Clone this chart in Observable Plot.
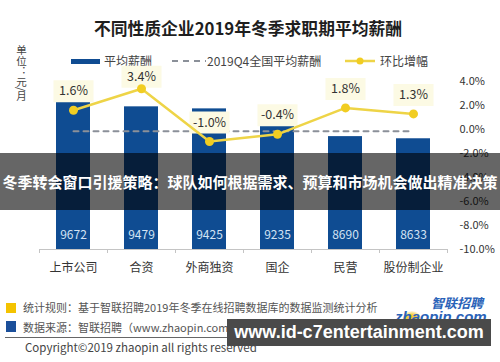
<!DOCTYPE html>
<html><head><meta charset="utf-8">
<script src="https://cdn.jsdelivr.net/npm/d3@7"></script>
<script src="https://cdn.jsdelivr.net/npm/@observablehq/plot@0.6"></script>
<style>
body{margin:0;background:#fff;font-family:"Noto Sans CJK SC","Noto Sans",sans-serif;}
#wrap{position:relative;width:500px;height:362px;overflow:hidden;background:#fff;}
.abs{position:absolute;white-space:nowrap;}
#chart1,#chart2{position:absolute;left:0;top:66px;}
</style></head><body><div id="wrap">
<div class="abs" style="left:0;width:496px;top:20px;text-align:center;font-size:16.8px;line-height:17px;font-weight:700;color:#1e1e1e;">不同性质企业2019年冬季求职期平均薪酬</div>
<div class="abs" style="left:15px;top:45px;font-size:10.5px;line-height:12px;writing-mode:vertical-rl;color:#444;">单位：元/月</div>
<div class="abs" style="left:71px;top:59px;width:29px;height:5px;background:#0f4c92;"></div>
<div class="abs" style="left:104px;top:54px;font-size:12px;line-height:13px;color:#444;">平均薪酬</div>
<svg class="abs" style="left:172px;top:55px" width="34" height="12"><line x1="0" x2="34" y1="6" y2="6" stroke="#8b9099" stroke-width="2" stroke-dasharray="6,5"/></svg>
<div class="abs" style="left:207px;top:54px;font-size:12px;line-height:13px;color:#444;">2019Q4全国平均薪酬</div>
<svg class="abs" style="left:345px;top:55px" width="30" height="12"><line x1="0" x2="30" y1="6" y2="6" stroke="#eed447" stroke-width="2.5"/><circle cx="15" cy="6" r="3.5" fill="#f1cd22"/></svg>
<div class="abs" style="left:380px;top:54px;font-size:12px;line-height:13px;color:#444;">环比增幅</div>
<div id="chart1"></div>
<div id="chart2"></div>
<div class="abs" style="left:0;top:153px;width:500px;height:57px;background:rgba(0,0,0,0.6);display:flex;align-items:center;justify-content:center;color:#fff;font-weight:700;font-size:15px;">冬季转会窗口引援策略：球队如何根据需求、预算和市场机会做出精准决策</div>
<div class="abs" style="left:6px;top:303px;width:10px;height:10px;background:#f4c300;"></div>
<div class="abs" style="left:23px;top:301px;font-size:11px;line-height:12px;color:#555;">统计规则：基于智联招聘2019年冬季在线招聘数据库的数据监测统计分析</div>
<div class="abs" style="left:6px;top:321px;width:10px;height:11px;background:#1b4f9a;"></div>
<div class="abs" style="left:23px;top:321px;font-size:11px;line-height:12px;color:#555;">数据来源：智联招聘（www.zhaopin.com）</div>
<div class="abs" style="left:5px;top:337px;width:485px;height:1px;background:#666;"></div>
<div class="abs" style="left:25px;top:341px;font-size:11.5px;line-height:13px;color:#444;">Copyright©2019 zhaopin all rights reserved</div>
<div class="abs" style="left:402px;top:311px;width:20px;height:20px;border-radius:50%;background:radial-gradient(circle,#f3b800 0%,#f6d040 45%,rgba(250,230,120,0) 75%);"></div>
<div class="abs" style="left:431px;top:296px;font-size:13px;line-height:14px;font-weight:700;font-style:italic;color:#2a62b8;">智联招聘</div>
<div class="abs" style="left:395px;top:309px;font-size:15px;line-height:15px;font-weight:700;font-style:italic;color:#2a62b8;font-family:'Liberation Sans',sans-serif;">zhaopin.com</div>
<div class="abs" style="left:227px;top:319px;width:264px;height:27px;background:#4a4a4a;display:flex;align-items:center;justify-content:center;color:#fff;font-weight:700;font-size:18px;font-family:'Liberation Sans',sans-serif;">www.id-c7entertainment.com</div>
</div>
<script>
const categories = ["上市公司","合资","外商独资","国企","民营","股份制企业"];
const salaries = [9672,9479,9425,9235,8690,8633];
const growth = [1.6,3.4,-1.0,-0.4,1.8,1.3];
const nationalAvg = 8829;
const pctTicks = [4,2,0,-2,-4,-6,-8,-10];
const salaryDomain = [5700,10150];
const pctDomain = [-10,4];

const rows = categories.map((c,i)=>({cat:c, salary:salaries[i], growth:growth[i]}));
const W=500,H=220,mT=15,mB=37,mL=39,mR=53;
const step=(W-mL-mR)/categories.length;
const maxG=d3.max(growth);
const font="'Noto Sans CJK SC','Noto Sans',sans-serif";
const common={width:W,height:H,marginTop:mT,marginBottom:mB,marginLeft:mL,marginRight:mR,
  x:{domain:categories,paddingInner:0.5,paddingOuter:0.25,axis:null},
  style:{fontFamily:font,fontSize:"12px",background:"transparent",overflow:"visible"}};

const p1=Plot.plot({...common,
  y:{domain:salaryDomain,axis:null},
  marks:[
    Plot.barY(rows,{x:"cat",y1:()=>salaryDomain[0],y2:"salary",fill:"#0f4c92"}),
    Plot.ruleY([salaryDomain[0]],{stroke:"#c4c4c4"}),
    Plot.ruleX(categories,{x:d=>d,dx:-step/2,insetTop:H-mT-mB,insetBottom:-4,stroke:"#c4c4c4"}),
    Plot.ruleX(categories.slice(-1),{x:d=>d,dx:step/2,insetTop:H-mT-mB,insetBottom:-4,stroke:"#c4c4c4"}),
    Plot.text(rows,{x:"cat",y:()=>salaryDomain[0],text:d=>String(d.salary),dy:-14,fill:"#d3e3f4",fontSize:12}),
    Plot.lineY(categories,{x:d=>d,y:()=>nationalAvg,stroke:"#8b9099",strokeWidth:2,strokeDasharray:"5,5"}),
    Plot.axisX({tickSize:0,tickPadding:14,fontSize:12,fill:"#333",label:null})
  ]});
document.getElementById("chart1").append(p1);

const boxSymbol={draw(ctx){ctx.rect(-20,-11,40,22);}};
const p2=Plot.plot({...common,
  y:{domain:pctDomain,axis:null},
  marks:[
    Plot.axisY({anchor:"right",ticks:pctTicks,tickSize:0,tickPadding:12,tickFormat:d=>d.toFixed(1)+"%",fontSize:11,fill:"#333",label:null}),
    Plot.dot(rows,{filter:d=>d.growth!==maxG,x:"cat",y:"growth",dy:-19,symbol:boxSymbol,fill:"#fcfae4",stroke:"none"}),
    Plot.dot(rows,{filter:d=>d.growth===maxG,x:"cat",y:"growth",dy:-12,symbol:boxSymbol,fill:"#fcfae4",stroke:"none"}),
    Plot.line(rows,{x:"cat",y:"growth",stroke:"#eed447",strokeWidth:2.5}),
    Plot.dot(rows,{x:"cat",y:"growth",r:4.5,fill:"#f1cd22"}),
    Plot.text(rows,{filter:d=>d.growth!==maxG,x:"cat",y:"growth",text:d=>d.growth.toFixed(1)+"%",dy:-19,fontSize:12.5,fill:"#333"}),
    Plot.text(rows,{filter:d=>d.growth===maxG,x:"cat",y:"growth",text:d=>d.growth.toFixed(1)+"%",dy:-12,fontSize:12.5,fill:"#333"})
  ]});
document.getElementById("chart2").append(p2);
</script>
</body></html>
